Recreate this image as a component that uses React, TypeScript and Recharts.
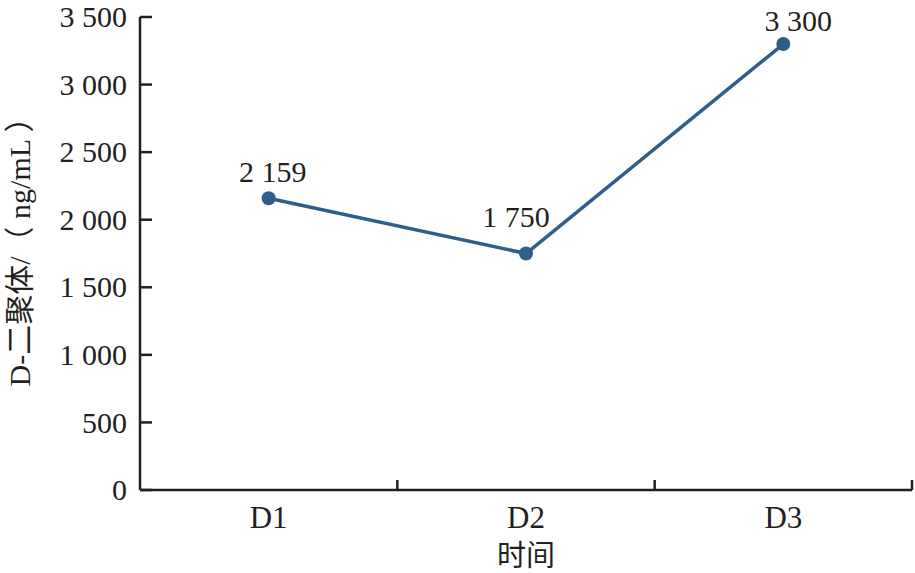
import { LabelList, Line, LineChart, XAxis, YAxis } from 'recharts'

const categories = ['D1', 'D2', 'D3']
const dDimer = [2159, 1750, 3300]
const yTicks = [0, 500, 1000, 1500, 2000, 2500, 3000, 3500]
const xTitle = '时间'
const yTitle = 'D-二聚体/（ ng/mL ）'
// hand placement of the value labels, as in the original figure (dx, gap above dot)
const labelNudge = [
  [4, 15],
  [-10, 26],
  [15, 12],
]

const INK = '#231f20'
const LINE = '#2e5f8b'
const FONT = '"Liberation Serif", "Noto Sans CJK SC", serif'

// points sit in the middle of each band, tick marks on the band edges
const data = categories.map((name, i) => ({ name, pos: i + 0.5, value: dDimer[i] }))
const xTicks = categories.flatMap((_, i) => [i + 0.5, i + 1])

function fmt(v: number | string): string {
  return String(v).replace(/\B(?=(\d{3})+(?!\d))/g, ' ')
}

function XTick({ x, y, payload }: any) {
  const v = Number(payload.value)
  if (Number.isInteger(v)) {
    return <line x1={x} x2={x} y1={y} y2={y - 10} stroke={INK} strokeWidth={2.5} />
  }
  return (
    <text x={x} y={y + 38} textAnchor="middle" fontSize={31} fontFamily={FONT} fill={INK}>
      {categories[Math.floor(v)]}
    </text>
  )
}

function YTick({ x, y, payload }: any) {
  return (
    <g>
      <line x1={x} x2={x + 12} y1={y} y2={y} stroke={INK} strokeWidth={2.5} />
      <text x={x - 13} y={y} dy="0.34em" textAnchor="end" fontSize={30} fontFamily={FONT} fill={INK}>
        {fmt(payload.value)}
      </text>
    </g>
  )
}

function ValueLabel({ x, y, value, index }: any) {
  const [dx, gap] = labelNudge[index] ?? [0, 14]
  return (
    <text x={x + dx} y={y - gap - 1} textAnchor="middle" fontSize={30} fontFamily={FONT} fill={INK}>
      {fmt(value)}
    </text>
  )
}

export default function App() {
  return (
    <div style={{ position: 'absolute', left: 0, top: 0, background: '#fff' }}>
      <LineChart width={915} height={573} data={data} margin={{ top: 17, right: 3, bottom: 0, left: 0 }}>
        <XAxis
          dataKey="pos"
          type="number"
          domain={[0, 3]}
          ticks={xTicks}
          interval={0}
          height={83}
          tickLine={false}
          tickSize={0}
          tickMargin={0}
          tick={<XTick />}
          axisLine={{ stroke: INK, strokeWidth: 2.5 }}
          label={{
            content: ({ viewBox }: any) => (
              <text
                x={viewBox.x + viewBox.width / 2}
                y={viewBox.y + 76}
                textAnchor="middle"
                fontSize={29}
                fontFamily={FONT}
                fill={INK}
              >
                {xTitle}
              </text>
            ),
          }}
        />
        <YAxis
          type="number"
          domain={[0, 3500]}
          ticks={yTicks}
          interval={0}
          width={140}
          tickLine={false}
          tickSize={0}
          tickMargin={0}
          tick={<YTick />}
          axisLine={{ stroke: INK, strokeWidth: 2.5 }}
          label={{
            content: ({ viewBox }: any) => {
              const cx = 19
              const cy = viewBox.y + viewBox.height / 2 - 9
              return (
                <text
                  x={cx}
                  y={cy}
                  transform={`rotate(-90 ${cx} ${cy})`}
                  textAnchor="middle"
                  dominantBaseline="central"
                  fontSize={30}
                  fontFamily={FONT}
                  fill={INK}
                >
                  {yTitle}
                </text>
              )
            },
          }}
        />
        <Line
          type="linear"
          dataKey="value"
          stroke={LINE}
          strokeWidth={3.5}
          dot={{ r: 7, fill: LINE, stroke: 'none' }}
          activeDot={false}
          isAnimationActive={false}
        >
          <LabelList dataKey="value" content={<ValueLabel />} />
        </Line>
      </LineChart>
    </div>
  )
}
